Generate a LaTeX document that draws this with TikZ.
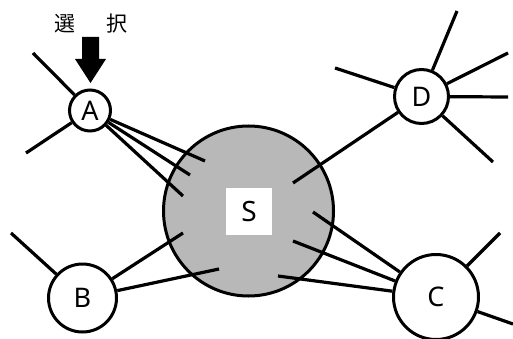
\documentclass[tikz,border=0pt]{standalone}
\usepackage{fontspec}
\setmainfont{Noto Sans}
\newfontfamily\jpfont{Noto Sans CJK JP}
\begin{document}
\begin{tikzpicture}[x=1pt,y=-1pt,
  peer/.style={circle,draw=black,line width=3pt,fill=white,inner sep=0pt,
    font=\fontsize{27}{27}\selectfont},
  hub/.style={circle,draw=black,line width=3pt,fill=black!28,inner sep=0pt},
  link/.style={line width=3.2pt,line cap=butt},
  tag/.style={font=\jpfont\fontsize{21}{21}\selectfont,inner sep=0pt}]
\useasboundingbox (0,0) rectangle (513,339);

% central server
\node[hub,minimum size=170pt] (S) at (248.5,211) {};
\node[fill=white,minimum width=46pt,minimum height=47pt,inner sep=0pt,
  font=\fontsize{28}{28}\selectfont] (Slabel) at (249,211.5) {S};

% peers
\node[peer,minimum size=41pt] (A) at (90,110.5) {A};
\node[peer,minimum size=68pt] (B) at (82.5,298) {B};
\node[peer,minimum size=85pt] (C) at (436,297) {C};
\node[peer,minimum size=54pt] (D) at (421.5,96.5) {D};

% selection marker above A
\node[tag] (sel1) at (65,24) {選};
\node[tag] (sel2) at (116.5,24) {択};
\fill (82,37) -- (99,37) -- (99,59) -- (106,59) -- (90.5,83) -- (75,59) -- (82,59) -- cycle;

% loose ends of the peers' other links
\coordinate (a1) at (33,53);
\coordinate (a2) at (26,153);
\coordinate (b1) at (11,233);
\coordinate (c1) at (500,233);
\coordinate (c2) at (513,324);
\coordinate (d1) at (457,11);
\coordinate (d2) at (508,53);
\coordinate (d3) at (508,97);
\coordinate (d4) at (493,162);
\coordinate (d5) at (335,68);

\draw[link] (A) -- (a1);
\draw[link] (A) -- (a2);
\draw[link] (B) -- (b1);
\draw[link] (C) -- (c1);
\draw[link] (C) -- (c2);
\draw[link] (D) -- (d1);
\draw[link] (D) -- (d2);
\draw[link] (D) -- (d3);
\draw[link] (D) -- (d4);
\draw[link] (D) -- (d5);

% link ends inside the server
\coordinate (sa1) at (205,161);
\coordinate (sa2) at (190,175);
\coordinate (sa3) at (183,196);
\coordinate (sb1) at (183,233);
\coordinate (sb2) at (219,269);
\coordinate (sc1) at (313,212);
\coordinate (sc2) at (293,241);
\coordinate (sc3) at (278,276);
\coordinate (sd1) at (293,183);

\draw[link] (A) -- (sa1);
\draw[link] (A) -- (sa2);
\draw[link] (A) -- (sa3);
\draw[link] (B) -- (sb1);
\draw[link] (B) -- (sb2);
\draw[link] (C) -- (sc1);
\draw[link] (C) -- (sc2);
\draw[link] (C) -- (sc3);
\draw[link] (D) -- (sd1);
\end{tikzpicture}
\end{document}
